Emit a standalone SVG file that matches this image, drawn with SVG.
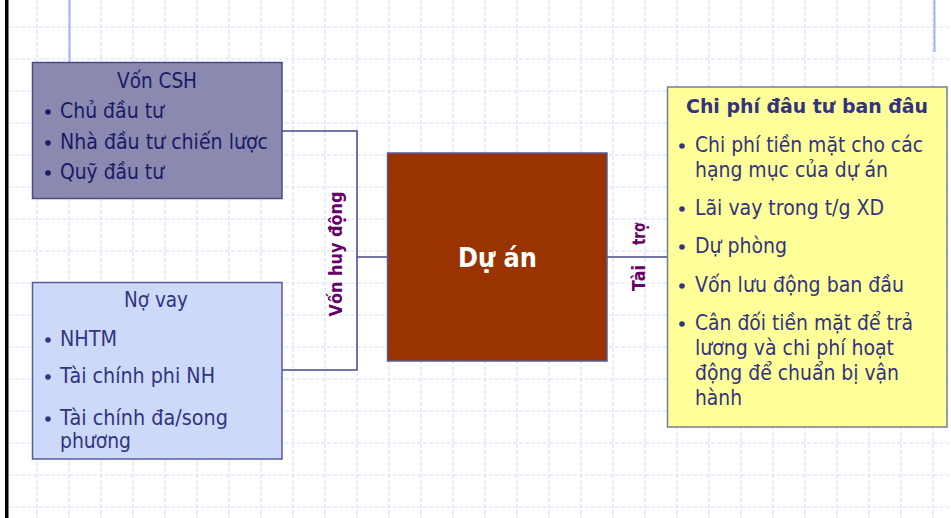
<svg xmlns="http://www.w3.org/2000/svg" width="951" height="518" viewBox="0 0 951 518">
<style>
.grid{fill:none;stroke:#d6e0fa;stroke-width:1.2;stroke-dasharray:4 2}
.t{font-family:"DejaVu Sans","Noto Sans",sans-serif;font-size:21px}
.b{font-family:"DejaVu Sans","Noto Sans",sans-serif;font-weight:bold}
.conn{fill:none;stroke:#4a4a8c;stroke-width:1.5}
.lbl{font-family:"DejaVu Sans","Noto Sans",sans-serif;font-weight:bold;font-size:18px;fill:#660066}
</style>
<rect width="951" height="518" fill="#ffffff"/>
<path class="grid" d="M37 0V518M69 0V518M101 0V518M133 0V518M165 0V518M197 0V518M229 0V518M261 0V518M293 0V518M325 0V518M357 0V518M389 0V518M421 0V518M453 0V518M485 0V518M517 0V518M549 0V518M581 0V518M613 0V518M645 0V518M677 0V518M709 0V518M741 0V518M773 0V518M805 0V518M837 0V518M869 0V518M901 0V518M933 0V518"/>
<path class="grid" d="M9 27H951M9 59H951M9 91H951M9 123H951M9 155H951M9 187H951M9 219H951M9 251H951M9 283H951M9 315H951M9 347H951M9 379H951M9 411H951M9 443H951M9 475H951M9 507H951"/>
<rect x="5" y="0" width="3.5" height="518" fill="#000000"/>
<path d="M69.5 0V62M934.5 0V52" stroke="#a3b3f2" stroke-width="2" fill="none"/>

<g id="connectors">
<path class="conn" d="M282 131H357V370H282M357 257H388"/>
<path class="conn" d="M607 257H668"/>
<text class="lbl" transform="translate(342,254) rotate(-90)" text-anchor="middle" textLength="125" lengthAdjust="spacingAndGlyphs">Vốn huy động</text>
<text class="lbl" transform="translate(645,278) rotate(-90)" text-anchor="middle" textLength="26" lengthAdjust="spacingAndGlyphs">Tài</text>
<text class="lbl" transform="translate(645,234) rotate(-90)" text-anchor="middle" textLength="22" lengthAdjust="spacingAndGlyphs">trợ</text>
</g>

<g id="von-csh">
<rect x="32.5" y="62.5" width="249.5" height="136" fill="#8a89b0" stroke="#4a4a8c" stroke-width="1.5"/>
<g class="t" fill="#1a1a66">
<text x="157" y="88" text-anchor="middle" textLength="80" lengthAdjust="spacingAndGlyphs">Vốn CSH</text>
<circle cx="48" cy="112" r="2.8"/><text x="60" y="118" textLength="104" lengthAdjust="spacingAndGlyphs">Chủ đầu tư</text>
<circle cx="48" cy="143" r="2.8"/><text x="60" y="149" textLength="208" lengthAdjust="spacingAndGlyphs">Nhà đầu tư chiến lược</text>
<circle cx="48" cy="173" r="2.8"/><text x="60" y="179" textLength="104" lengthAdjust="spacingAndGlyphs">Quỹ đầu tư</text>
</g>
</g>

<g id="no-vay">
<rect x="32.5" y="282.5" width="249.5" height="176.5" fill="#ccd9f8" stroke="#5a5a9a" stroke-width="1.5"/>
<g class="t" fill="#333380">
<text x="156" y="307" text-anchor="middle" textLength="64" lengthAdjust="spacingAndGlyphs">Nợ vay</text>
<circle cx="48" cy="340" r="2.8"/><text x="60" y="346" textLength="57" lengthAdjust="spacingAndGlyphs">NHTM</text>
<circle cx="48" cy="377" r="2.8"/><text x="60" y="383" textLength="155" lengthAdjust="spacingAndGlyphs">Tài chính phi NH</text>
<circle cx="48" cy="419" r="2.8"/><text x="60" y="425" textLength="168" lengthAdjust="spacingAndGlyphs">Tài chính đa/song</text>
<text x="60" y="448" textLength="71" lengthAdjust="spacingAndGlyphs">phương</text>
</g>
</g>

<g id="du-an">
<rect x="387.5" y="153" width="219.5" height="208" fill="#993300" stroke="#5a5a9a" stroke-width="1.5"/>
<text class="b" x="497.5" y="267" font-size="26" fill="#ffffff" text-anchor="middle" textLength="79" lengthAdjust="spacingAndGlyphs">Dự án</text>
</g>

<g id="chi-phi">
<rect x="667.5" y="87" width="279.5" height="340" fill="#ffff99" stroke="#7a7aa0" stroke-width="1.5"/>
<text class="b" x="807" y="113" font-size="20" fill="#333380" text-anchor="middle" textLength="242" lengthAdjust="spacingAndGlyphs">Chi phí đâu tư ban đâu</text>
<g class="t" fill="#333380">
<circle cx="682" cy="146" r="2.8"/><text x="695" y="152" textLength="228" lengthAdjust="spacingAndGlyphs">Chi phí tiền mặt cho các</text>
<text x="695" y="177" textLength="193" lengthAdjust="spacingAndGlyphs">hạng mục của dự án</text>
<circle cx="682" cy="209" r="2.8"/><text x="695" y="215" textLength="189" lengthAdjust="spacingAndGlyphs">Lãi vay trong t/g XD</text>
<circle cx="682" cy="247" r="2.8"/><text x="695" y="253" textLength="92" lengthAdjust="spacingAndGlyphs">Dự phòng</text>
<circle cx="682" cy="286" r="2.8"/><text x="695" y="292" textLength="209" lengthAdjust="spacingAndGlyphs">Vốn lưu động ban đầu</text>
<circle cx="682" cy="324" r="2.8"/><text x="695" y="330" textLength="218" lengthAdjust="spacingAndGlyphs">Cân đối tiền mặt để trả</text>
<text x="695" y="355" textLength="199" lengthAdjust="spacingAndGlyphs">lương và chi phí hoạt</text>
<text x="695" y="380" textLength="204" lengthAdjust="spacingAndGlyphs">động để chuẩn bị vận</text>
<text x="695" y="405" textLength="47" lengthAdjust="spacingAndGlyphs">hành</text>
</g>
</g>
</svg>
